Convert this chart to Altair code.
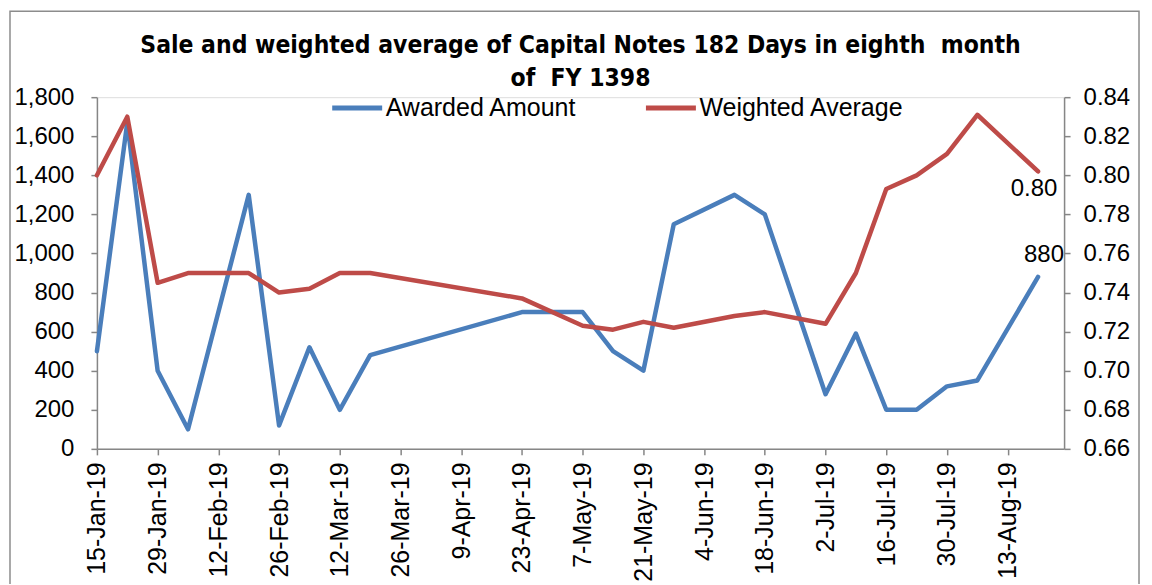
import altair as alt
import pandas as pd

# ---- data ----
dates = ["2019-01-15", "2019-01-22", "2019-01-29", "2019-02-05", "2019-02-19",
         "2019-02-26", "2019-03-05", "2019-03-12", "2019-03-19", "2019-04-23",
         "2019-05-07", "2019-05-14", "2019-05-21", "2019-05-28", "2019-06-11",
         "2019-06-18", "2019-07-02", "2019-07-09", "2019-07-16", "2019-07-23",
         "2019-07-30", "2019-08-06", "2019-08-20"]
awarded = [500, 1670, 400, 100, 1300, 120, 520, 200, 480, 700,
           700, 500, 400, 1150, 1300, 1200, 280, 590, 200, 200,
           320, 350, 880]
weighted = [0.800, 0.830, 0.745, 0.750, 0.750, 0.740, 0.742, 0.750, 0.750, 0.737,
            0.723, 0.721, 0.725, 0.722, 0.728, 0.730, 0.724, 0.750, 0.793, 0.800,
            0.811, 0.831, 0.802]
series_names = ["Awarded Amount", "Weighted Average"]
series_colors = ["#4A7EBB", "#BE4B48"]
x_tick_dates = ["2019-01-15", "2019-01-29", "2019-02-12", "2019-02-26", "2019-03-12",
                "2019-03-26", "2019-04-09", "2019-04-23", "2019-05-07", "2019-05-21",
                "2019-06-04", "2019-06-18", "2019-07-02", "2019-07-16", "2019-07-30",
                "2019-08-13"]
x_domain = ["2019-01-15", "2019-08-26"]
left_ticks = [0, 200, 400, 600, 800, 1000, 1200, 1400, 1600, 1800]
right_ticks = [0.66, 0.68, 0.70, 0.72, 0.74, 0.76, 0.78, 0.80, 0.82, 0.84]
title_lines = ["Sale and weighted average of Capital Notes 182 Days in eighth\u00a0 month",
               "of\u00a0 FY 1398"]

df_a = pd.DataFrame({"date": dates, "value": awarded, "series": series_names[0]})
df_w = pd.DataFrame({"date": dates, "value": weighted, "series": series_names[1]})

FONT = "Liberation Sans, Arial, sans-serif"
AX = "#868686"


def dt(s):
    y, m, d = (int(p) for p in s.split("-"))
    return alt.DateTime(year=y, month=m, date=d, utc=True)


x_enc = alt.X(
    "date:T",
    scale=alt.Scale(type="utc", domain=[dt(s) for s in x_domain], nice=False),
    axis=alt.Axis(values=[dt(s) for s in x_tick_dates], format="%-d-%b-%y",
                  labelAngle=270, title=None, grid=False, labelFontSize=25,
                  labelPadding=7, tickSize=6, domainColor=AX, tickColor=AX,
                  domainWidth=1.5, tickWidth=1.5, labelColor="black",
                  labelFont=FONT, labelOverlap=False),
)

color_enc = alt.Color(
    "series:N",
    scale=alt.Scale(domain=series_names, range=series_colors),
    legend=alt.Legend(title=None, orient="none", direction="horizontal",
                      legendX=233, legendY=-17, symbolType="stroke",
                      symbolSize=2500, symbolStrokeWidth=5, labelFontSize=25,
                      labelFont=FONT, labelColor="black", labelOffset=1,
                      columnPadding=58, labelLimit=400),
)

y_left = alt.Y(
    "value:Q",
    scale=alt.Scale(domain=[0, 1800], nice=False, zero=False),
    axis=alt.Axis(orient="left", values=left_ticks, format=",d", title=None,
                  grid=False, labelFontSize=24, labelFont=FONT, labelColor="black",
                  tickSize=6, labelPadding=17, domainColor=AX, tickColor=AX,
                  domainWidth=1.5, tickWidth=1.5),
)
y_right = alt.Y(
    "value:Q",
    scale=alt.Scale(domain=[0.66, 0.84], nice=False, zero=False),
    axis=alt.Axis(orient="right", values=right_ticks, format=".2f", title=None,
                  grid=False, labelFontSize=24, labelFont=FONT, labelColor="black",
                  tickSize=6, labelPadding=13, domainColor=AX, tickColor=AX,
                  domainWidth=1.5, tickWidth=1.5),
)

# outer chart-area border (decoration, like the spreadsheet chart frame)
frame = alt.Chart(pd.DataFrame({"k": [0]})).mark_rect(
    fill=None, stroke="#8C8C8C", strokeWidth=1.5
).encode(x=alt.value(-87), x2=alt.value(1043), y=alt.value(-86), y2=alt.value(620))

blue_line = alt.Chart(df_a).mark_line(strokeWidth=4.5, strokeCap="round",
                                      strokeJoin="round").encode(
    x=x_enc, y=y_left, color=color_enc)
blue_text = alt.Chart(df_a.tail(1)).mark_text(
    fontSize=24, font=FONT, color="black", dx=6, dy=-22).encode(
    x=x_enc, y=y_left, text=alt.Text("value:Q", format="d"))

red_line = alt.Chart(df_w).mark_line(strokeWidth=4.5, strokeCap="round",
                                     strokeJoin="round").encode(
    x=x_enc, y=y_right, color=color_enc)
red_text = alt.Chart(df_w.tail(1)).mark_text(
    fontSize=24, font=FONT, color="black", dx=-4, dy=18).encode(
    x=x_enc, y=y_right, text=alt.Text("value:Q", format=".2f"))

left_layer = alt.layer(blue_line, blue_text)
right_layer = alt.layer(red_line, red_text)

chart = alt.layer(frame, left_layer, right_layer).resolve_scale(
    y="independent"
).properties(
    width=968,
    height=352,
    title=alt.TitleParams(text=title_lines, fontSize=24.5,
                          font="DejaVu Sans Condensed, Liberation Sans Narrow, sans-serif",
                          fontWeight="bold", color="black", anchor="middle",
                          lineHeight=33, offset=-81),
    padding={"left": 89, "top": 89, "right": 80, "bottom": 135},
    autosize=alt.AutoSizeParams(type="none"),
).configure_view(stroke=None).configure(background="white")

chart.save("out.html", embed_options={"renderer": "svg", "actions": False})
